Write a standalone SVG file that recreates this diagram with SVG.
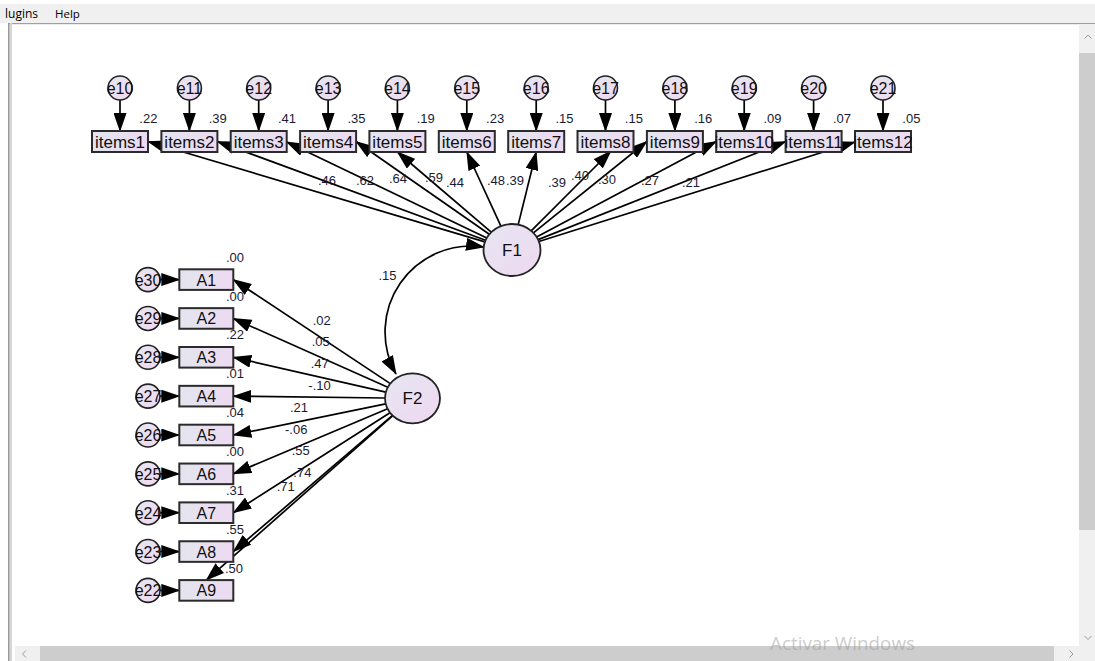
<svg xmlns="http://www.w3.org/2000/svg" width="1095" height="661" viewBox="0 0 1095 661">
<defs>
<linearGradient id="gBox" x1="0" y1="0" x2="1" y2="0"><stop offset="0" stop-color="#e3e5ee"/><stop offset="1" stop-color="#eddaf2"/></linearGradient>
<linearGradient id="gCirc" x1="0" y1="0" x2="1" y2="1"><stop offset="0" stop-color="#e6e6f2"/><stop offset="1" stop-color="#efd8f0"/></linearGradient>
<marker id="ah" viewBox="0 0 19 13" refX="18" refY="6.5" markerWidth="19" markerHeight="13" markerUnits="userSpaceOnUse" orient="auto-start-reverse"><path d="M0,0 L19,6.5 L0,13 z" fill="#000"/></marker>
</defs>
<style>
.box{fill:url(#gBox);stroke:#2b2b2b;stroke-width:2}
.lat{fill:url(#gCirc);stroke:#222;stroke-width:1.8}
.err{fill:url(#gCirc);stroke:#222;stroke-width:1.6}
.lbl{font-family:"Liberation Sans",Arial,sans-serif;fill:#111;text-anchor:middle}
.it{font-size:17px}
.ev{font-size:16px}
.fv{font-size:17px}
.num{font-family:"Liberation Sans",Arial,sans-serif;font-size:13px;fill:#1a1a33}
.ln{stroke:#000;stroke-width:1.7;fill:none;marker-end:url(#ah)}
.cor{stroke:#000;stroke-width:1.7;fill:none;marker-end:url(#ah);marker-start:url(#ah)}
.ui{font-family:"Open Sans","Noto Sans",sans-serif}
</style>

<!-- window chrome -->
<rect x="0" y="0" width="1095" height="661" fill="#ffffff"/>
<rect x="0" y="4" width="1095" height="19" fill="#f0f0f0"/>
<text class="ui" x="5" y="18" font-size="12" fill="#000">lugins</text>
<text class="ui" x="55" y="18" font-size="11.5" fill="#000">Help</text>
<rect x="8" y="23" width="1087" height="1.2" fill="#a0a0a0"/>
<rect x="8" y="23" width="1.6" height="638" fill="#9a9a9a"/>
<rect x="10" y="23" width="2" height="638" fill="#d6d6d6"/>
<rect x="1079" y="24" width="16" height="622" fill="#f0f0f0"/>
<rect x="1079" y="53" width="16" height="477" fill="#cdcdcd"/>
<path d="M1084.5,38.5 L1088,35 L1091.5,38.5" fill="none" stroke="#9a9a9a" stroke-width="1"/>
<path d="M1084.5,636 L1088,639.5 L1091.5,636" fill="none" stroke="#9a9a9a" stroke-width="1"/>
<rect x="15" y="646" width="1080" height="15" fill="#f0f0f0"/>
<rect x="40" y="646" width="1014" height="15" fill="#cdcdcd"/>
<path d="M26,650.5 L22.5,654 L26,657.5" fill="none" stroke="#9a9a9a" stroke-width="1"/>
<path d="M1069.5,650.5 L1073,654 L1069.5,657.5" fill="none" stroke="#9a9a9a" stroke-width="1"/>

<!-- connectors -->
<g id="connectors">
<path class="ln" d="M120,100 V131"/>
<path class="ln" d="M189.4,100 V131"/>
<path class="ln" d="M258.7,100 V131"/>
<path class="ln" d="M328.1,100 V131"/>
<path class="ln" d="M397.4,100 V131"/>
<path class="ln" d="M466.8,100 V131"/>
<path class="ln" d="M536.2,100 V131"/>
<path class="ln" d="M605.5,100 V131"/>
<path class="ln" d="M674.9,100 V131"/>
<path class="ln" d="M744.2,100 V131"/>
<path class="ln" d="M813.6,100 V131"/>
<path class="ln" d="M883,100 V131"/>
<path class="ln" d="M484.9,241.9 L148,141.5"/>
<path class="ln" d="M485.6,240.3 L217.4,141.5"/>
<path class="ln" d="M486.8,237.9 L286.7,142"/>
<path class="ln" d="M489.3,234.2 L356.1,141.5"/>
<path class="ln" d="M491.2,232.2 L397.4,152"/>
<path class="ln" d="M500.9,226.1 L466.8,152"/>
<path class="ln" d="M518.2,224.6 L536.2,152"/>
<path class="ln" d="M531.2,230.8 L611,151"/>
<path class="ln" d="M533.4,232.8 L646.9,141.5"/>
<path class="ln" d="M536.6,236.9 L716.2,141.5"/>
<path class="ln" d="M538.1,239.6 L785.6,141.5"/>
<path class="ln" d="M538.9,241.5 L855,142"/>
<path class="cor" d="M484,247 A86,86 0 0 0 396,374"/>
<path class="ln" d="M390.3,383.6 L233.3,279.6"/>
<path class="ln" d="M387.8,387.3 L233.3,318.45"/>
<path class="ln" d="M385.8,392.2 L233.3,357.3"/>
<path class="ln" d="M385,398 L233.3,396.15"/>
<path class="ln" d="M385.7,403.8 L233.3,435"/>
<path class="ln" d="M387.6,408.8 L233.3,473.85"/>
<path class="ln" d="M390,412.7 L233.3,512.7"/>
<path class="ln" d="M392.5,415.4 L233.3,551.55"/>
<path class="ln" d="M392.8,415.7 L206.3,580.1"/>
<path class="ln" d="M160,279.6 H179.3"/>
<path class="ln" d="M160,318.45 H179.3"/>
<path class="ln" d="M160,357.3 H179.3"/>
<path class="ln" d="M160,396.15 H179.3"/>
<path class="ln" d="M160,435 H179.3"/>
<path class="ln" d="M160,473.85 H179.3"/>
<path class="ln" d="M160,512.7 H179.3"/>
<path class="ln" d="M160,551.55 H179.3"/>
<path class="ln" d="M160,590.4 H179.3"/>
</g>

<!-- path coefficient labels -->
<g id="coefficients" class="num">
<text x="318" y="185">.46</text>
<text x="356" y="185">.62</text>
<text x="389" y="183">.64</text>
<text x="425" y="182">.59</text>
<text x="446" y="186.5">.44</text>
<text x="487" y="185">.48</text>
<text x="506" y="185">.39</text>
<text x="548" y="186.5">.39</text>
<text x="571" y="180">.40</text>
<text x="598" y="183.5">.30</text>
<text x="641" y="185">.27</text>
<text x="682" y="186.5">.21</text>
<text x="378.5" y="280">.15</text>
<text x="312.7" y="325">.02</text>
<text x="311.7" y="345.7">.05</text>
<text x="310.7" y="368.3">.47</text>
<text x="308.3" y="390">-.10</text>
<text x="290" y="411.7">.21</text>
<text x="285" y="434.2">-.06</text>
<text x="291.7" y="455">.55</text>
<text x="293.3" y="476.7">.74</text>
<text x="276.7" y="491">.71</text>
</g>

<!-- latent factors -->
<g id="F1"><ellipse class="lat" cx="512" cy="250" rx="28.5" ry="26"/><text class="lbl fv" x="512" y="255.5">F1</text></g>
<g id="F2"><ellipse class="lat" cx="412.5" cy="398.3" rx="27.5" ry="25"/><text class="lbl fv" x="412.5" y="404">F2</text></g>

<!-- observed items -->
<g id="items1"><rect class="box" x="92" y="131" width="56" height="21"/><text class="lbl it" x="120" y="148">items1</text><text class="num" x="139.3" y="123.3">.22</text></g>
<g id="items2"><rect class="box" x="161.4" y="131" width="56" height="21"/><text class="lbl it" x="189.4" y="148">items2</text><text class="num" x="208.7" y="123.3">.39</text></g>
<g id="items3"><rect class="box" x="230.7" y="131" width="56" height="21"/><text class="lbl it" x="258.7" y="148">items3</text><text class="num" x="278" y="123.3">.41</text></g>
<g id="items4"><rect class="box" x="300.1" y="131" width="56" height="21"/><text class="lbl it" x="328.1" y="148">items4</text><text class="num" x="347.4" y="123.3">.35</text></g>
<g id="items5"><rect class="box" x="369.4" y="131" width="56" height="21"/><text class="lbl it" x="397.4" y="148">items5</text><text class="num" x="416.7" y="123.3">.19</text></g>
<g id="items6"><rect class="box" x="438.8" y="131" width="56" height="21"/><text class="lbl it" x="466.8" y="148">items6</text><text class="num" x="486.1" y="123.3">.23</text></g>
<g id="items7"><rect class="box" x="508.2" y="131" width="56" height="21"/><text class="lbl it" x="536.2" y="148">items7</text><text class="num" x="555.5" y="123.3">.15</text></g>
<g id="items8"><rect class="box" x="577.5" y="131" width="56" height="21"/><text class="lbl it" x="605.5" y="148">items8</text><text class="num" x="624.8" y="123.3">.15</text></g>
<g id="items9"><rect class="box" x="646.9" y="131" width="56" height="21"/><text class="lbl it" x="674.9" y="148">items9</text><text class="num" x="694.2" y="123.3">.16</text></g>
<g id="items10"><rect class="box" x="716.2" y="131" width="56" height="21"/><text class="lbl it" x="744.2" y="148">items10</text><text class="num" x="763.5" y="123.3">.09</text></g>
<g id="items11"><rect class="box" x="785.6" y="131" width="56" height="21"/><text class="lbl it" x="813.6" y="148">items11</text><text class="num" x="832.9" y="123.3">.07</text></g>
<g id="items12"><rect class="box" x="855" y="131" width="56" height="21"/><text class="lbl it" x="883" y="148">items12</text><text class="num" x="902.3" y="123.3">.05</text></g>

<!-- item errors -->
<g id="e10"><circle class="err" cx="120" cy="88" r="12"/><text class="lbl ev" x="120" y="94">e10</text></g>
<g id="e11"><circle class="err" cx="189.4" cy="88" r="12"/><text class="lbl ev" x="189.4" y="94">e11</text></g>
<g id="e12"><circle class="err" cx="258.7" cy="88" r="12"/><text class="lbl ev" x="258.7" y="94">e12</text></g>
<g id="e13"><circle class="err" cx="328.1" cy="88" r="12"/><text class="lbl ev" x="328.1" y="94">e13</text></g>
<g id="e14"><circle class="err" cx="397.4" cy="88" r="12"/><text class="lbl ev" x="397.4" y="94">e14</text></g>
<g id="e15"><circle class="err" cx="466.8" cy="88" r="12"/><text class="lbl ev" x="466.8" y="94">e15</text></g>
<g id="e16"><circle class="err" cx="536.2" cy="88" r="12"/><text class="lbl ev" x="536.2" y="94">e16</text></g>
<g id="e17"><circle class="err" cx="605.5" cy="88" r="12"/><text class="lbl ev" x="605.5" y="94">e17</text></g>
<g id="e18"><circle class="err" cx="674.9" cy="88" r="12"/><text class="lbl ev" x="674.9" y="94">e18</text></g>
<g id="e19"><circle class="err" cx="744.2" cy="88" r="12"/><text class="lbl ev" x="744.2" y="94">e19</text></g>
<g id="e20"><circle class="err" cx="813.6" cy="88" r="12"/><text class="lbl ev" x="813.6" y="94">e20</text></g>
<g id="e21"><circle class="err" cx="883" cy="88" r="12"/><text class="lbl ev" x="883" y="94">e21</text></g>

<!-- A items -->
<g id="A1"><rect class="box" x="179.3" y="269.3" width="54" height="20.6"/><text class="lbl ev" x="206.3" y="285.6">A1</text><text class="num" x="226" y="261.7">.00</text></g>
<g id="A2"><rect class="box" x="179.3" y="308.15" width="54" height="20.6"/><text class="lbl ev" x="206.3" y="324.45">A2</text><text class="num" x="226" y="300.55">.00</text></g>
<g id="A3"><rect class="box" x="179.3" y="347" width="54" height="20.6"/><text class="lbl ev" x="206.3" y="363.3">A3</text><text class="num" x="226" y="339.4">.22</text></g>
<g id="A4"><rect class="box" x="179.3" y="385.85" width="54" height="20.6"/><text class="lbl ev" x="206.3" y="402.15">A4</text><text class="num" x="226" y="378.25">.01</text></g>
<g id="A5"><rect class="box" x="179.3" y="424.7" width="54" height="20.6"/><text class="lbl ev" x="206.3" y="441">A5</text><text class="num" x="226" y="417.1">.04</text></g>
<g id="A6"><rect class="box" x="179.3" y="463.55" width="54" height="20.6"/><text class="lbl ev" x="206.3" y="479.85">A6</text><text class="num" x="226" y="455.95">.00</text></g>
<g id="A7"><rect class="box" x="179.3" y="502.4" width="54" height="20.6"/><text class="lbl ev" x="206.3" y="518.7">A7</text><text class="num" x="226" y="494.8">.31</text></g>
<g id="A8"><rect class="box" x="179.3" y="541.25" width="54" height="20.6"/><text class="lbl ev" x="206.3" y="557.55">A8</text><text class="num" x="226" y="533.65">.55</text></g>
<g id="A9"><rect class="box" x="179.3" y="580.1" width="54" height="20.6"/><text class="lbl ev" x="206.3" y="596.4">A9</text><text class="num" x="225" y="572.5">.50</text></g>

<!-- A errors -->
<g id="e30"><circle class="err" cx="148" cy="279.6" r="12"/><text class="lbl ev" x="148" y="285.6">e30</text></g>
<g id="e29"><circle class="err" cx="148" cy="318.45" r="12"/><text class="lbl ev" x="148" y="324.45">e29</text></g>
<g id="e28"><circle class="err" cx="148" cy="357.3" r="12"/><text class="lbl ev" x="148" y="363.3">e28</text></g>
<g id="e27"><circle class="err" cx="148" cy="396.15" r="12"/><text class="lbl ev" x="148" y="402.15">e27</text></g>
<g id="e26"><circle class="err" cx="148" cy="435" r="12"/><text class="lbl ev" x="148" y="441">e26</text></g>
<g id="e25"><circle class="err" cx="148" cy="473.85" r="12"/><text class="lbl ev" x="148" y="479.85">e25</text></g>
<g id="e24"><circle class="err" cx="148" cy="512.7" r="12"/><text class="lbl ev" x="148" y="518.7">e24</text></g>
<g id="e23"><circle class="err" cx="148" cy="551.55" r="12"/><text class="lbl ev" x="148" y="557.55">e23</text></g>
<g id="e22"><circle class="err" cx="148" cy="590.4" r="12"/><text class="lbl ev" x="148" y="596.4">e22</text></g>

<!-- watermark -->
<text class="ui" x="770" y="650" font-size="19" fill="#999999" fill-opacity="0.5" textLength="145" lengthAdjust="spacingAndGlyphs">Activar Windows</text>
</svg>
